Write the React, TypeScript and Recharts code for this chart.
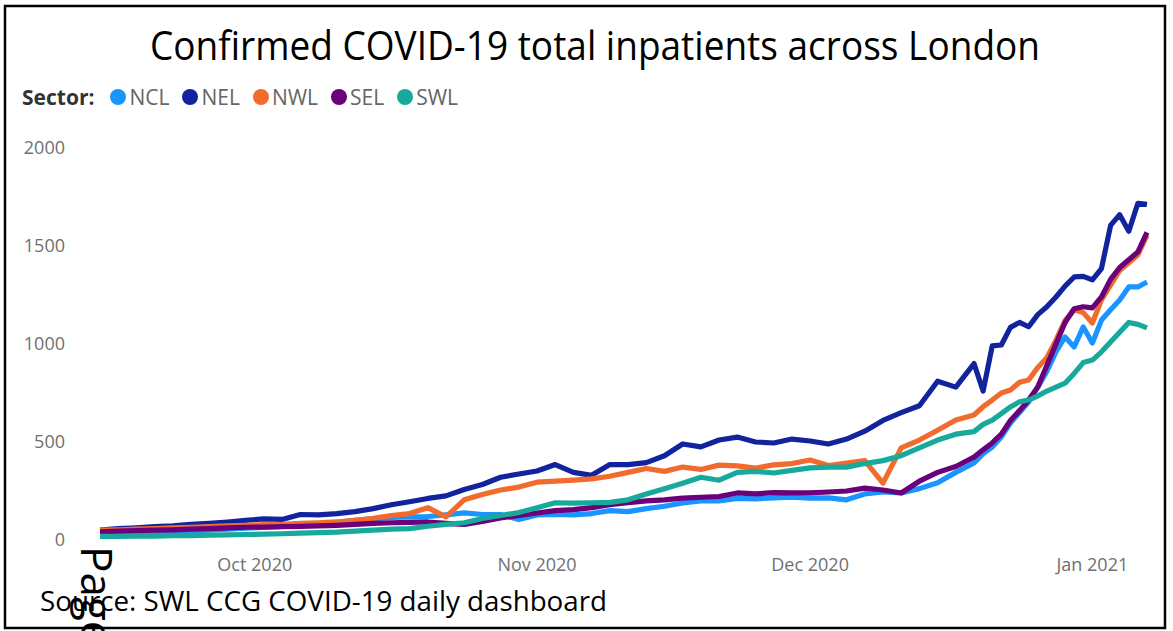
import React from 'react';
import { LineChart, Line, XAxis, YAxis } from 'recharts';

// day index counted from 1 Sep 2020 (Oct 1 = 30, Nov 1 = 61, Dec 1 = 91, Jan 1 = 122)
const DAYS = [
  13, 15, 17, 19, 21, 23, 25, 27, 29, 31, 33, 35, 37, 39, 41, 43, 45, 47, 49, 51,
  53, 55, 57, 59, 61, 63, 65, 67, 69, 71, 73, 75, 77, 79, 81, 83, 85, 87, 89, 91,
  93, 95, 97, 99, 101, 103, 105, 107, 109,
  110, 111, 112, 113, 114, 115, 116, 117, 118, 119, 120, 121, 122, 123, 124, 125, 126, 127, 128,
];

const NCL = [
  35, 38, 40, 42, 45, 48, 50, 55, 60, 65, 70, 75, 80, 90, 100, 108, 115, 118, 120, 128,
  138, 130, 130, 105, 128, 130, 128, 135, 150, 145, 160, 172, 189, 200, 200, 212, 210, 215, 218, 214,
  215, 205, 235, 245, 240, 262, 292, 345, 393,
  440, 474, 526, 597, 650, 704, 780, 860, 960, 1036, 985, 1087, 1005, 1122, 1175, 1225, 1291, 1291, 1316,
];

const NEL = [
  50, 58, 62, 68, 72, 80, 85, 92, 100, 108, 105, 130, 128, 135, 145, 160, 180, 195, 212, 225,
  258, 283, 320, 337, 352, 385, 345, 330, 385, 385, 395, 430, 490, 475, 510, 525, 500, 495, 515, 505,
  490, 515, 555, 610, 650, 685, 810, 780, 900,
  760, 990, 995, 1085, 1110, 1088, 1150, 1190, 1240, 1295, 1342, 1345, 1327, 1385, 1605, 1660, 1575, 1718, 1712,
];

const NWL = [
  50, 52, 55, 58, 62, 65, 68, 72, 75, 78, 80, 85, 88, 92, 100, 110, 125, 135, 165, 118,
  205, 232, 255, 270, 295, 300, 305, 312, 325, 345, 365, 350, 372, 360, 382, 378, 367, 383, 390, 408,
  380, 393, 405, 290, 470, 510, 560, 612, 638,
  680, 714, 750, 765, 805, 816, 880, 930, 1020, 1120, 1175, 1160, 1107, 1225, 1300, 1375, 1415, 1455, 1555,
];

const SEL = [
  42, 45, 48, 50, 52, 55, 58, 62, 65, 66, 68, 70, 72, 75, 80, 85, 88, 90, 92, 85,
  80, 95, 112, 125, 138, 150, 155, 165, 180, 190, 200, 205, 214, 218, 222, 240, 235, 242, 240, 240,
  245, 250, 265, 255, 240, 300, 345, 375, 423,
  460, 495, 540, 610, 660, 714, 780, 890, 1000, 1110, 1180, 1190, 1184, 1240, 1330, 1390, 1430, 1470, 1570,
];

const SWL = [
  18, 18, 20, 20, 22, 22, 25, 26, 28, 30, 32, 35, 38, 40, 45, 50, 55, 58, 70, 80,
  88, 110, 125, 140, 165, 190, 188, 190, 192, 205, 235, 262, 290, 320, 305, 345, 350, 342, 355, 368,
  372, 372, 390, 405, 430, 470, 510, 540, 553,
  590, 612, 645, 679, 705, 714, 735, 760, 780, 800, 850, 905, 918, 960, 1010, 1060, 1110, 1100, 1082,
];

const SERIES = [
  { key: 'NCL', values: NCL, color: '#1A94FF' },
  { key: 'NEL', values: NEL, color: '#12239E' },
  { key: 'NWL', values: NWL, color: '#F26B2E' },
  { key: 'SEL', values: SEL, color: '#6B007B' },
  { key: 'SWL', values: SWL, color: '#17A99B' },
];

const Y_TICKS = [0, 500, 1000, 1500, 2000];
const X_TICK_DAYS = [30, 61, 91, 122];
const X_TICK_LABELS = ['Oct 2020', 'Nov 2020', 'Dec 2020', 'Jan 2021'];

const data = DAYS.map((day, i) => {
  const row: any = { day };
  SERIES.forEach((s) => (row[s.key] = s.values[i]));
  return row;
});

const AXIS_FONT = { fontSize: 18, fill: '#707070', fontFamily: '"Open Sans", sans-serif' };

export default function App() {
  return (
    <div style={{ position: 'absolute', left: 0, top: 0, width: 1173, height: 631, background: '#fff', overflow: 'hidden' }}>
      <LineChart width={1173} height={631} data={data} margin={{ top: 148, right: 26, bottom: 51, left: 0 }}>
        <XAxis
          dataKey="day"
          type="number"
          domain={[13, 128]}
          ticks={X_TICK_DAYS}
          tickFormatter={(d: number) => X_TICK_LABELS[X_TICK_DAYS.indexOf(d)]}
          axisLine={false}
          tickLine={false}
          tickSize={0}
          tickMargin={18}
          height={40}
          tick={AXIS_FONT}
        />
        <YAxis
          domain={[0, 2000]}
          ticks={Y_TICKS}
          axisLine={false}
          tickLine={false}
          tickSize={0}
          tickMargin={35}
          width={100}
          tick={AXIS_FONT}
        />
        {SERIES.map((s) => (
          <Line
            key={s.key}
            dataKey={s.key}
            stroke={s.color}
            strokeWidth={5.2}
            dot={false}
            type="linear"
            strokeLinejoin="round"
            isAnimationActive={false}
          />
        ))}
      </LineChart>

      {/* legend */}
      <div
        style={{
          position: 'absolute', left: 22, top: 84, height: 26, display: 'flex', alignItems: 'center',
          fontFamily: '"Open Sans", sans-serif', fontSize: 21, color: '#666',
        }}
      >
        <span style={{ fontWeight: 700, color: '#333', marginRight: 3 }}>Sector:</span>
        {SERIES.map((s) => (
          <span key={s.key} style={{ display: 'flex', alignItems: 'center', marginLeft: 13 }}>
            <span style={{ width: 16, height: 16, borderRadius: '50%', background: s.color, marginRight: 3 }} />
            {s.key}
          </span>
        ))}
      </div>

      <svg width={1173} height={631} style={{ position: 'absolute', left: 0, top: 0, pointerEvents: 'none' }}>
        <text x={150} y={60} fontSize={40} fontFamily='"Open Sans", sans-serif' fill="#000" textLength={890} lengthAdjust="spacingAndGlyphs">
          Confirmed COVID-19 total inpatients across London
        </text>
        <text x={40} y={611} fontSize={27} fontFamily='"Open Sans", sans-serif' fill="#000" textLength={567} lengthAdjust="spacingAndGlyphs">
          Source: SWL CCG COVID-19 daily dashboard
        </text>
        <text transform="translate(81,546) rotate(90)" fontSize={44} fontFamily='"Open Sans", sans-serif' fill="#000">
          Page
        </text>
        <rect x={5} y={6} width={1160} height={622} fill="none" stroke="#000" strokeWidth={2.5} />
      </svg>
    </div>
  );
}
